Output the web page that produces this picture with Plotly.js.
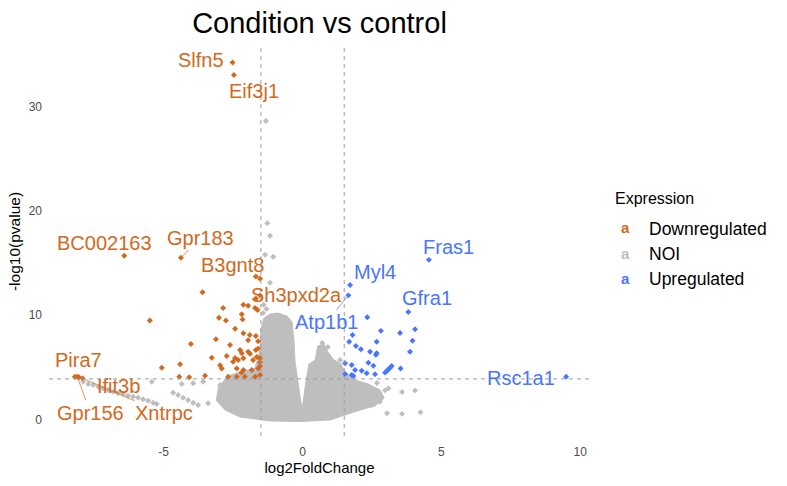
<!DOCTYPE html>
<html>
<head>
<meta charset="utf-8">
<script src="https://cdn.plot.ly/plotly-3.0.1.min.js"></script>
<style>html,body{margin:0;padding:0;background:#fff;}#chart{width:787px;height:486px;}</style>
</head>
<body>
<div id="chart"></div>
<script>
// ---------- data ----------
const fcCut = 1.5;     // |log2FoldChange| threshold (dashed verticals)
const pCut = 3.9;      // -log10(pvalue) threshold (dashed horizontal)

// dense core of not-of-interest genes (outline of the solid grey cloud)
const noiCoreLog2FC = [-3.05,-2.69,-2.25,-1.71,-1.53,-1.50,-1.39,-1.17,-0.89,-0.56,-0.38,-0.31,-0.27,-0.17,-0.02,0.12,0.23,0.45,0.55,0.77,0.91,1.13,1.38,1.53,1.89,2.36,2.79,2.94,2.61,2.07,1.53,0.99,-0.09,-1.17,-1.71,-2.25,-2.79,-3.12];
const noiCoreNegLog10P = [3.03,4.18,4.56,4.94,6.67,8.58,9.73,10.11,10.21,9.92,9.35,7.62,5.52,3.79,0.92,3.60,5.33,5.70,7.05,7.24,6.48,5.71,5.33,4.56,3.79,3.41,2.84,2.07,1.30,0.92,0.44,-0.04,-0.18,-0.13,0.06,0.25,0.92,1.88];

// scattered not-of-interest genes
const noiLog2FC = [-1.32,-1.27,-1.17,-1.35,-1.06,-1.17,-1.42,-1.40,-1.30,
  0.71,0.91,1.35,
  2.97,3.09,3.58,4.05,2.68,2.79,3.04,3.58,4.25,
  -7.90,-7.72,-7.54,-7.36,-7.18,-7.00,-6.82,-6.64,-6.46,-6.28,-6.10,-5.92,-5.74,-5.56,-5.38,-5.25,
  -4.66,-4.48,-4.30,-4.12,-3.94,-3.76,-3.40,-5.43,-4.35,-3.94,-3.58,-2.97,-2.72];
const noiNegLog10P = [28.6,18.8,17.6,15.8,15.6,13.1,10.2,11.0,10.6,
  7.33,6.95,5.71,
  2.80,3.00,2.65,2.80,3.50,1.70,0.60,0.55,0.70,
  3.63,3.41,3.31,3.15,3.00,2.84,2.67,2.52,2.45,2.29,2.19,2.10,1.94,1.81,1.62,1.49,
  2.58,2.36,2.10,1.88,1.62,1.40,1.56,3.63,3.41,3.48,3.63,3.31,3.85];

// downregulated genes (labelled genes first; the rest are unlabelled)
const downGenes = ['Slfn5','Eif3j1','BC002163','Gpr183','B3gnt8','Sh3pxd2a','Pira7','Ifit3b','Gpr156','Xntrpc'];
const downLog2FC = [-2.52,-2.47,-6.42,-4.38,-1.68,-1.53,-8.20,-8.05,-8.11,-7.92,
  -1.53,-3.60,-5.50,-2.86,-3.01,-2.76,-2.19,-1.96,-2.13,-1.68,-1.62,-1.71,-2.16,-2.43,-2.13,-1.96,-1.68,-1.60,-1.90,-3.12,-2.61,-4.02,-2.25,-2.19,-2.73,-3.27,-1.89,-1.68,-1.65,-1.96,-1.60,-2.97,-2.91,-2.50,-2.32,-2.13,-2.43,-1.78,-1.53,-2.37,-2.13,-1.83,-1.60,-2.20,-2.68,-2.37,-2.08,-1.71,-1.53,-1.53,-1.53,-3.51,-4.08,-4.44,-4.41,-5.07];
const downNegLog10P = [34.2,33.0,15.7,15.5,13.7,11.9,4.1,4.05,4.1,3.95,
  13.5,12.2,9.5,10.7,9.76,9.5,10.1,10.9,11.0,11.6,10.5,10.7,9.6,8.7,8.27,7.6,8.0,7.5,8.1,7.7,7.15,7.24,6.67,6.35,6.1,5.93,6.3,6.67,6.0,6.5,6.8,5.2,4.9,5.55,5.7,5.87,5.9,5.7,5.87,4.9,4.75,4.75,4.9,4.5,4.1,4.1,4.1,4.1,4.27,5.1,5.5,4.2,4.05,4.1,5.3,4.97];

// upregulated genes (labelled genes first)
const upGenes = ['Fras1','Myl4','Atp1b1','Gfra1','Rsc1a1'];
const upLog2FC = [4.55,1.71,1.65,3.81,9.49,
  2.33,2.82,4.05,3.51,1.80,3.96,1.68,1.92,2.10,2.67,2.43,2.67,2.64,3.87,1.53,1.77,2.37,2.55,1.89,2.13,2.31,1.53,1.77,1.83,2.61,2.97,3.03,3.09,3.15,3.21,3.53];
const upNegLog10P = [15.3,12.9,11.9,10.3,4.1,
  9.8,8.5,8.65,8.3,8.1,7.56,7.46,7.05,6.73,7.46,6.5,6.35,6.2,6.5,5.4,5.23,5.45,5.16,4.75,4.68,4.43,4.37,4.27,4.18,4.34,4.5,4.65,4.8,4.97,5.13,4.9];

const xTicks = [-5, 0, 5, 10];
const yTicks = [0, 10, 20, 30];
const groupNames = ['Downregulated', 'NOI', 'Upregulated'];

// ---------- styling ----------
const FONT = 'Liberation Sans, Arial, sans-serif';
const colDown = '#D2691E', colNoi = '#BEBEBE', colUp = '#4876FF';
const groupColors = [colDown, colNoi, colUp];
// label placement (pixel offsets from the point to the label centre) and whether a segment is drawn
const labelPlace = {
  Slfn5: [-32, -3, false], Eif3j1: [20, 16, false], BC002163: [-20, -13, false],
  Gpr183: [20, -20, true], B3gnt8: [-23, -12, false], Sh3pxd2a: [36, 0, false],
  Pira7: [4, -17, false], Ifit3b: [40, 9, false], Gpr156: [13, 36, true], Xntrpc: [81, 35, true],
  Fras1: [20, -13, false], Myl4: [25, -13, false], Atp1b1: [-22, 27, true], Gfra1: [19, -14, false],
  Rsc1a1: [-45, 1, false]
};

const mk = (c) => ({color: c, size: 4.6, symbol: 'diamond', line: {width: 0}});
const traces = [
  {x: noiCoreLog2FC, y: noiCoreNegLog10P, type: 'scatter', mode: 'lines', fill: 'toself',
   fillcolor: colNoi, line: {color: colNoi, width: 1}, showlegend: false, hoverinfo: 'skip'},
  {x: noiLog2FC, y: noiNegLog10P, type: 'scatter', mode: 'markers', marker: mk(colNoi), name: 'NOI', showlegend: false},
  {x: downLog2FC, y: downNegLog10P, text: downLog2FC.map((v, i) => downGenes[i] || ''), type: 'scatter', mode: 'markers', marker: mk(colDown), name: 'Downregulated', showlegend: false},
  {x: upLog2FC, y: upNegLog10P, text: upLog2FC.map((v, i) => upGenes[i] || ''), type: 'scatter', mode: 'markers', marker: mk(colUp), name: 'Upregulated', showlegend: false}
];

const annotations = [];
function addLabels(genes, xs, ys, color) {
  genes.forEach((g, i) => {
    const p = labelPlace[g];
    annotations.push({
      x: xs[i], y: ys[i], xref: 'x', yref: 'y', text: g, showarrow: true,
      ax: p[0], ay: p[1], arrowhead: 0, arrowwidth: 0.7, standoff: 2, startstandoff: 0,
      arrowcolor: p[2] ? color : 'rgba(0,0,0,0)',
      font: {family: FONT, size: 20, color: color}
    });
  });
}
addLabels(downGenes, downLog2FC, downNegLog10P, colDown);
addLabels(upGenes, upLog2FC, upNegLog10P, colUp);

// legend (ggrepel-style "a" keys)
annotations.push({xref: 'paper', yref: 'paper', x: 1.0425, y: 0.6093, xanchor: 'left', yanchor: 'middle',
  text: 'Expression', showarrow: false, font: {family: FONT, size: 16, color: '#000'}});
const keyY = [0.5356, 0.4691, 0.4058];
const labY = [0.5321, 0.4666, 0.4036];
groupNames.forEach((g, i) => {
  annotations.push({xref: 'paper', yref: 'paper', x: 1.0647, y: keyY[i], xanchor: 'center', yanchor: 'middle',
    text: '<b>a</b>', showarrow: false, font: {family: FONT, size: 15, color: groupColors[i]}});
  annotations.push({xref: 'paper', yref: 'paper', x: 1.1054, y: labY[i], xanchor: 'left', yanchor: 'middle',
    text: g, showarrow: false, font: {family: FONT, size: 17.5, color: '#000'}});
});

const dashLine = {color: '#9E9E9E', width: 1, dash: '4px,4px'};
const shapes = [
  {type: 'line', xref: 'x', yref: 'paper', x0: -fcCut, x1: -fcCut, y0: 0, y1: 1, line: dashLine, layer: 'above'},
  {type: 'line', xref: 'x', yref: 'paper', x0: fcCut, x1: fcCut, y0: 0, y1: 1, line: dashLine, layer: 'above'},
  {type: 'line', xref: 'paper', yref: 'y', x0: 0, x1: 1, y0: pCut, y1: pCut, line: dashLine, layer: 'above'}
];

const layout = {
  width: 787, height: 486,
  margin: {l: 49, r: 197, t: 47, b: 50},
  paper_bgcolor: '#fff', plot_bgcolor: '#fff',
  font: {family: FONT},
  title: {text: 'Condition vs control', font: {family: FONT, size: 29, color: '#000'},
          xref: 'paper', x: 0.5, xanchor: 'center', yref: 'container', y: 0.953, yanchor: 'middle'},
  xaxis: {range: [-9.13, 10.35], tickvals: xTicks, ticktext: xTicks.map(String), showgrid: false, zeroline: false,
          showline: false, ticks: '', ticklabelstandoff: 7, tickfont: {family: FONT, size: 12, color: '#4D4D4D'},
          title: {text: 'log2FoldChange', font: {family: FONT, size: 15, color: '#000'}, standoff: 4}},
  yaxis: {range: [-1.57, 35.69], tickvals: yTicks, ticktext: yTicks.map(String), showgrid: false, zeroline: false,
          showline: false, ticks: '', ticklabelstandoff: 6, tickfont: {family: FONT, size: 12, color: '#4D4D4D'},
          title: {text: '-log10(pvalue)', font: {family: FONT, size: 15.5, color: '#000'}, standoff: 4}},
  showlegend: false,
  shapes: shapes,
  annotations: annotations
};

Plotly.newPlot('chart', traces, layout, {displayModeBar: false, staticPlot: true});
</script>
</body>
</html>
